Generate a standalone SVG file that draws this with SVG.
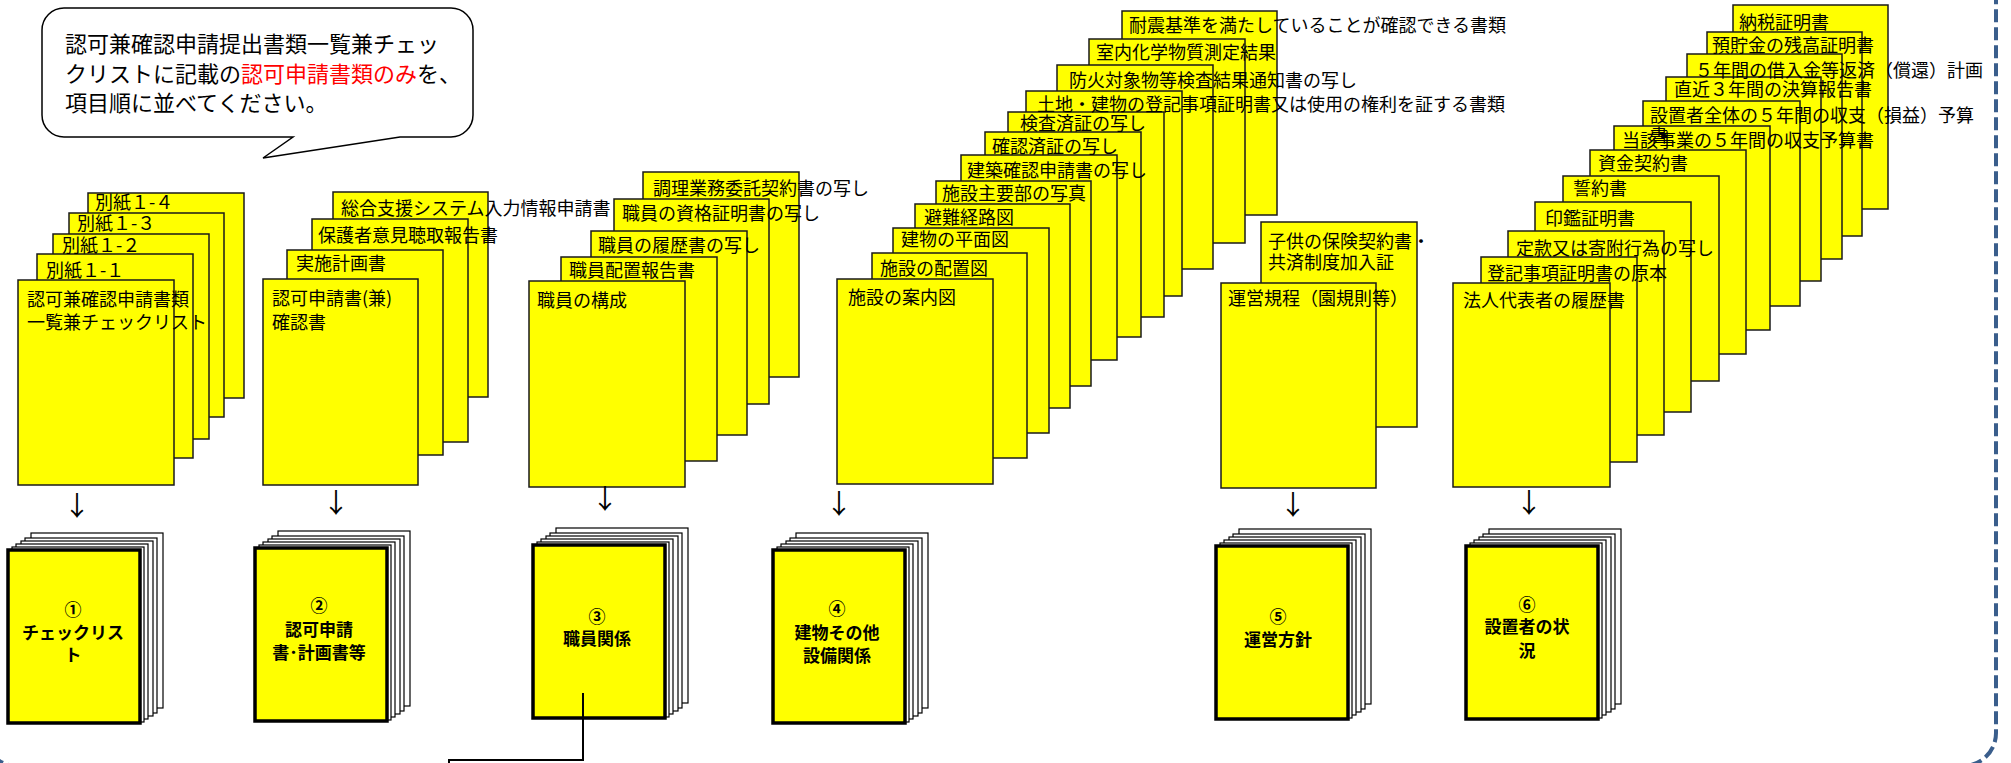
<svg xmlns="http://www.w3.org/2000/svg" xmlns:xlink="http://www.w3.org/1999/xlink" width="2011" height="763" viewBox="0 0 2011 763">
<style>
.sh{fill:#FFFF00;stroke:#1a1a1a;stroke-width:1.5}
.t{font-family:"Noto Sans CJK JP","Noto Sans CJK SC",sans-serif;font-size:18px;fill:#000}
.bt{font-family:"Noto Sans CJK JP","Noto Sans CJK SC",sans-serif;font-size:17px;font-weight:bold;fill:#000;text-anchor:middle}
.ar{font-family:"Noto Sans CJK JP","DejaVu Sans",sans-serif;font-size:27px;fill:#000;text-anchor:middle}
.bub{font-family:"Noto Sans CJK JP","Noto Sans CJK SC",sans-serif;font-size:22px;fill:#000}
.wh{fill:#fff;stroke:#000;stroke-width:1.2}
.fr{fill:#FFFF00;stroke:#000;stroke-width:3.5}
.cn{fill:none;stroke:#000;stroke-width:2}
</style>
<defs>
<g id="stk">
<rect class="wh" x="23" y="-17" width="132" height="175"/>
<rect class="wh" x="17" y="-12" width="132" height="175"/>
<rect class="wh" x="13" y="-9" width="132" height="175"/>
<rect class="wh" x="8" y="-6" width="132" height="175"/>
<rect class="wh" x="4" y="-3" width="132" height="175"/>
<rect class="fr" x="0" y="0" width="132" height="173"/>
</g>
</defs>
<rect x="0" y="0" width="2011" height="763" fill="#fff"/>
<rect x="-16" y="-60" width="2012" height="826" rx="33" ry="33" fill="none" stroke="#3A5E8C" stroke-width="4" stroke-dasharray="13 5"/>

<g id="bubble">
<path d="M64,8 H451 A22,22 0 0 1 473,30 V115 A22,22 0 0 1 451,137 H400 L263,158 L293,137 H64 A22,22 0 0 1 42,115 V30 A22,22 0 0 1 64,8 Z" fill="#fff" stroke="#000" stroke-width="1.5"/>
<text class="bub" x="65" y="52">認可兼確認申請提出書類一覧兼チェッ</text>
<text class="bub" x="65" y="82">クリストに記載の<tspan fill="#FF0000">認可申請書類のみ</tspan>を、</text>
<text class="bub" x="65" y="111">項目順に並べてください。</text>
</g>

<g id="group1">
<rect class="sh" x="88" y="193" width="156" height="205"/>
<rect class="sh" x="69" y="213" width="155" height="204"/>
<rect class="sh" x="53" y="234" width="156" height="205"/>
<rect class="sh" x="37" y="254" width="156" height="204"/>
<rect class="sh" x="18" y="280" width="156" height="205"/>
<text class="t" x="95" y="208.5">別紙１-４</text>
<text class="t" x="77" y="229.5">別紙１-３</text>
<text class="t" x="62" y="251.5">別紙１-２</text>
<text class="t" x="46" y="276.5">別紙１-１</text>
<text class="t" x="27" y="305.5">認可兼確認申請書類</text>
<text class="t" x="27" y="328.5">一覧兼チェックリスト</text>
</g>

<g id="group2">
<rect class="sh" x="333" y="192" width="155" height="205"/>
<rect class="sh" x="312" y="219" width="156" height="223"/>
<rect class="sh" x="287" y="250" width="156" height="205"/>
<rect class="sh" x="263" y="279" width="155" height="206"/>
<text class="t" x="341" y="214.5">総合支援システム入力情報申請書</text>
<text class="t" x="318" y="241.5">保護者意見聴取報告書</text>
<text class="t" x="296" y="269.5">実施計画書</text>
<text class="t" x="272" y="304.5">認可申請書(兼)</text>
<text class="t" x="272" y="328.5">確認書</text>
</g>

<g id="group3">
<rect class="sh" x="643" y="172" width="156" height="205"/>
<rect class="sh" x="614" y="199" width="155" height="205"/>
<rect class="sh" x="591" y="231" width="156" height="204"/>
<rect class="sh" x="561" y="257" width="156" height="204"/>
<rect class="sh" x="529" y="281" width="156" height="206"/>
<text class="t" x="653" y="194.5">調理業務委託契約書の写し</text>
<text class="t" x="622" y="219.5">職員の資格証明書の写し</text>
<text class="t" x="598" y="251.5">職員の履歴書の写し</text>
<text class="t" x="569" y="276.5">職員配置報告書</text>
<text class="t" x="537" y="306.5">職員の構成</text>
</g>

<g id="group4">
<rect class="sh" x="1122" y="11" width="155" height="204"/>
<rect class="sh" x="1089" y="39" width="156" height="204"/>
<rect class="sh" x="1057" y="65" width="156" height="204"/>
<rect class="sh" x="1026" y="91" width="156" height="205"/>
<rect class="sh" x="1008" y="112" width="156" height="205"/>
<rect class="sh" x="985" y="132" width="156" height="205"/>
<rect class="sh" x="961" y="155" width="156" height="205"/>
<rect class="sh" x="936" y="181" width="155" height="205"/>
<rect class="sh" x="915" y="204" width="155" height="204"/>
<rect class="sh" x="893" y="228" width="156" height="205"/>
<rect class="sh" x="872" y="253" width="155" height="205"/>
<rect class="sh" x="837" y="279" width="156" height="205"/>
<text class="t" x="1129" y="31.5">耐震基準を満たしていることが確認できる書類</text>
<text class="t" x="1096" y="58.5">室内化学物質測定結果</text>
<text class="t" x="1069" y="86.5">防火対象物等検査結果通知書の写し</text>
<text class="t" x="1037" y="110.5">土地・建物の登記事項証明書又は使用の権利を証する書類</text>
<text class="t" x="1020" y="129.5">検査済証の写し</text>
<text class="t" x="992" y="152.5">確認済証の写し</text>
<text class="t" x="967" y="176.5">建築確認申請書の写し</text>
<text class="t" x="942" y="199.5">施設主要部の写真</text>
<text class="t" x="924" y="223.5">避難経路図</text>
<text class="t" x="901" y="245.5">建物の平面図</text>
<text class="t" x="880" y="274.5">施設の配置図</text>
<text class="t" x="848" y="303.5">施設の案内図</text>
</g>

<g id="group5">
<rect class="sh" x="1261" y="222" width="156" height="205"/>
<rect class="sh" x="1221" y="283" width="155" height="205"/>
<text class="t" x="1268" y="247.5">子供の保険契約書・</text>
<text class="t" x="1268" y="268.5">共済制度加入証</text>
<text class="t" x="1228" y="304.5">運営規程（園規則等）</text>
</g>

<g id="group6">
<rect class="sh" x="1733" y="5" width="155" height="204"/>
<rect class="sh" x="1707" y="32" width="155" height="204"/>
<rect class="sh" x="1687" y="54" width="155" height="205"/>
<rect class="sh" x="1666" y="77" width="155" height="204"/>
<rect class="sh" x="1643" y="101" width="157" height="205"/>
<rect class="sh" x="1614" y="126" width="156" height="204"/>
<rect class="sh" x="1590" y="150" width="156" height="204"/>
<rect class="sh" x="1563" y="176" width="156" height="205"/>
<rect class="sh" x="1535" y="202" width="156" height="210"/>
<rect class="sh" x="1508" y="231" width="156" height="204"/>
<rect class="sh" x="1481" y="257" width="156" height="205"/>
<rect class="sh" x="1453" y="283" width="157" height="204"/>
<text class="t" x="1739" y="28.5">納税証明書</text>
<text class="t" x="1712" y="51.5">預貯金の残高証明書</text>
<text class="t" x="1695" y="76.5">５年間の借入金等返済（償還）計画</text>
<text class="t" x="1674" y="95.5">直近３年間の決算報告書</text>
<text class="t" x="1650" y="121.5">設置者全体の５年間の収支（損益）予算</text>
<text class="t" x="1622" y="146.5">当該事業の５年間の収支予算書</text>
<text class="t" x="1650" y="142">書</text>
<text class="t" x="1598" y="169.5">資金契約書</text>
<text class="t" x="1573" y="194.5">誓約書</text>
<text class="t" x="1545" y="224.5">印鑑証明書</text>
<text class="t" x="1516" y="254.5">定款又は寄附行為の写し</text>
<text class="t" x="1487" y="279.5">登記事項証明書の原本</text>
<text class="t" x="1463" y="306.5">法人代表者の履歴書</text>
</g>

<g id="out1">
<use xlink:href="#stk" href="#stk" transform="translate(8,550)"/>
<text class="bt" x="73" y="616">①</text>
<text class="bt" x="73" y="639">チェックリス</text>
<text class="bt" x="73" y="661">ト</text>
</g>
<g id="out2">
<use xlink:href="#stk" href="#stk" transform="translate(255,548)"/>
<text class="bt" x="319" y="612">②</text>
<text class="bt" x="319" y="636">認可申請</text>
<text class="bt" x="319" y="659">書･計画書等</text>
</g>
<g id="out3">
<use xlink:href="#stk" href="#stk" transform="translate(533,545)"/>
<text class="bt" x="597" y="623">③</text>
<text class="bt" x="597" y="645">職員関係</text>
</g>
<g id="out4">
<use xlink:href="#stk" href="#stk" transform="translate(773,550)"/>
<text class="bt" x="837" y="615">④</text>
<text class="bt" x="837" y="639">建物その他</text>
<text class="bt" x="837" y="662">設備関係</text>
</g>
<g id="out5">
<use xlink:href="#stk" href="#stk" transform="translate(1216,546)"/>
<text class="bt" x="1278" y="623">⑤</text>
<text class="bt" x="1278" y="646">運営方針</text>
</g>
<g id="out6">
<use xlink:href="#stk" href="#stk" transform="translate(1466,546)"/>
<text class="bt" x="1527" y="611">⑥</text>
<text class="bt" x="1527" y="633">設置者の状</text>
<text class="bt" x="1527" y="657">況</text>
</g>

<g id="connectors">
<text class="ar" x="77" y="516">↓</text>
<text class="ar" x="336" y="513">↓</text>
<text class="ar" x="605" y="509">↓</text>
<text class="ar" x="839" y="514">↓</text>
<text class="ar" x="1293" y="515">↓</text>
<text class="ar" x="1529" y="513">↓</text>
<path class="cn" d="M583,693 V760 H449 V775"/>
</g>
</svg>
